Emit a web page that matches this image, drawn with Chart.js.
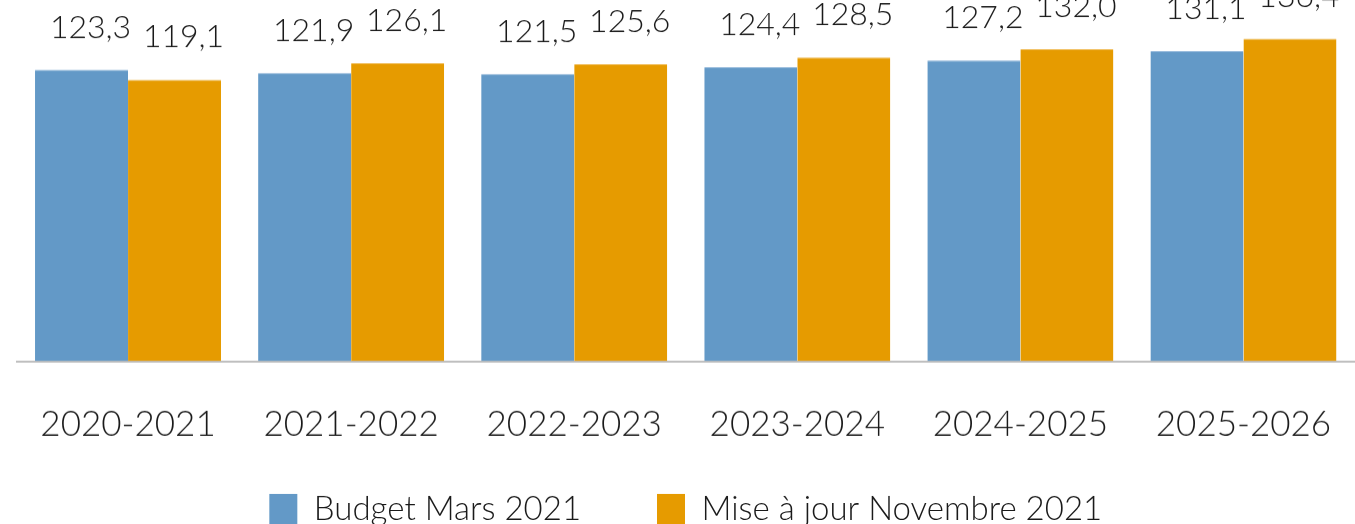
<!DOCTYPE html>
<html>
<head>
<meta charset="utf-8">
<script src="https://cdn.jsdelivr.net/npm/chart.js@4/dist/chart.umd.min.js"></script>
<style>
html,body{margin:0;padding:0;overflow:hidden;background:#fff;width:1355px;height:524px;}
#wrap{position:absolute;left:0;top:0;width:1355px;height:534.5px;}
</style>
</head>
<body>
<div id="wrap"><canvas id="c"></canvas></div>
<script>
const categories = ["2020-2021","2021-2022","2022-2023","2023-2024","2024-2025","2025-2026"];
const budgetMars2021 = [123.3,121.9,121.5,124.4,127.2,131.1];
const miseAJourNov2021 = [119.1,126.1,125.6,128.5,132.0,136.4];
const seriesNames = ["Budget Mars 2021","Mise à jour Novembre 2021"];

const FONT = "Lato, 'Open Sans', sans-serif";
const WEIGHT = 300;
const TEXT = "#1a1a1a";
const LEGEND_GAP = "\u00a0\u00a0\u00a0\u00a0\u2009";

const valueLabels = {
  id: 'valueLabels',
  afterDatasetsDraw(chart) {
    const ctx = chart.ctx;
    ctx.save();
    ctx.font = WEIGHT + " 32px " + FONT;
    ctx.fillStyle = TEXT;
    ctx.textAlign = 'center';
    ctx.textBaseline = 'alphabetic';
    chart.data.datasets.forEach((ds, i) => {
      chart.getDatasetMeta(i).data.forEach((bar, j) => {
        const t = ds.data[j].toFixed(1).replace('.', ',');
        ctx.fillText(t, bar.x + 9, bar.y - 32);
      });
    });
    ctx.restore();
  }
};

new Chart(document.getElementById('c'), {
  type: 'bar',
  data: {
    labels: categories,
    datasets: [
      { label: seriesNames[0], data: budgetMars2021, backgroundColor: '#6399c7',
        borderColor: '#8db4d8', borderWidth: { top: 1, left: 0, right: 0, bottom: 0 } },
      { label: seriesNames[1], data: miseAJourNov2021, backgroundColor: '#e69b00',
        borderColor: '#f0bd5a', borderWidth: { top: 1, left: 0, right: 0, bottom: 0 } }
    ]
  },
  options: {
    responsive: true,
    maintainAspectRatio: false,
    animation: false,
    layout: { padding: { left: 16.5, right: 0, top: 0, bottom: 0 } },
    datasets: { bar: { categoryPercentage: 0.834, barPercentage: 1.0 } },
    scales: {
      x: {
        grid: { display: false, drawTicks: true, tickLength: 32, color: 'rgba(0,0,0,0)' },
        border: { display: true, color: '#bfbfbf', width: 2 },
        ticks: { color: TEXT, font: { family: FONT, size: 35, weight: WEIGHT }, padding: 10.5 }
      },
      y: { display: false, min: 0, max: 152.75 }
    },
    plugins: {
      legend: {
        position: 'bottom',
        labels: {
          color: TEXT, font: { family: FONT, size: 33, weight: WEIGHT },
          boxWidth: 28, boxHeight: 30, padding: 36,
          generateLabels(chart) {
            const items = Chart.defaults.plugins.legend.labels.generateLabels(chart);
            items.forEach(it => { it.lineWidth = 0; });
            items[0].text = items[0].text + LEGEND_GAP;
            return items;
          }
        }
      },
      tooltip: { enabled: false }
    }
  },
  plugins: [valueLabels]
});
</script>
</body>
</html>
